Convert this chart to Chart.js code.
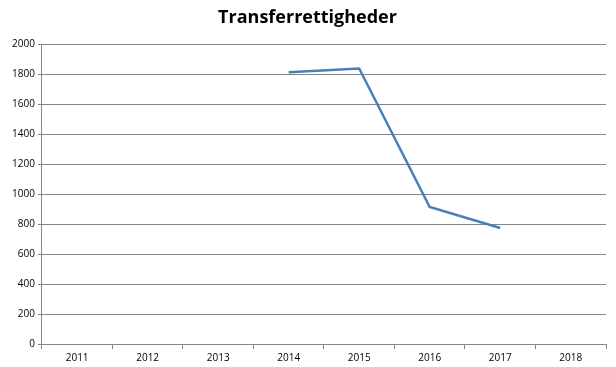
<!DOCTYPE html>
<html>
<head>
<meta charset="utf-8">
<script src="https://cdn.jsdelivr.net/npm/chart.js@4"></script>
<style>
  html, body { margin: 0; padding: 0; background: #fff; }
  #wrap { width: 616px; height: 367px; }
</style>
</head>
<body>
<div id="wrap"><canvas id="transferChart" width="616" height="367"></canvas></div>
<script>
// data
const years = ['2011', '2012', '2013', '2014', '2015', '2016', '2017', '2018'];
const transfers = [null, null, null, 1815, 1840, 915, 775, null];
const yTicks = [0, 200, 400, 600, 800, 1000, 1200, 1400, 1600, 1800, 2000];

const ctx = document.getElementById('transferChart').getContext('2d');

new Chart(ctx, {
    type: 'line',
    data: {
        labels: years,
        datasets: [{
            label: 'Transferrettigheder',
            data: transfers,
            borderColor: '#4a7ebb',
            borderWidth: 2.5,
            pointRadius: 0,
            fill: false,
            tension: 0,
            spanGaps: false
        }]
    },
    options: {
        responsive: false,
        animation: false,
        layout: { padding: { left: 9, right: 10, top: 2, bottom: 0 } },
        plugins: {
            legend: { display: false },
            tooltip: { enabled: false },
            title: {
                display: true,
                text: 'Transferrettigheder',
                color: '#000',
                font: { family: 'Open Sans', size: 18, weight: 'bold' },
                padding: { top: 5, bottom: 16 }
            }
        },
        scales: {
            x: {
                offset: true,
                grid: {
                    offset: true,
                    drawOnChartArea: false,
                    color: '#868686',
                    tickLength: 5
                },
                border: { color: '#868686', width: 1 },
                ticks: {
                    color: '#000',
                    font: { family: 'Open Sans', size: 10 },
                    maxRotation: 0,
                    padding: 3
                }
            },
            y: {
                min: 0,
                max: 2000,
                afterBuildTicks: axis => { axis.ticks = yTicks.map(v => ({ value: v })); },
                grid: {
                    color: '#868686',
                    tickLength: 4
                },
                border: { color: '#868686', width: 1 },
                ticks: {
                    color: '#000',
                    font: { family: 'Open Sans', size: 10 },
                    padding: 3,
                    callback: v => String(v)
                }
            }
        }
    }
});
</script>
</body>
</html>
